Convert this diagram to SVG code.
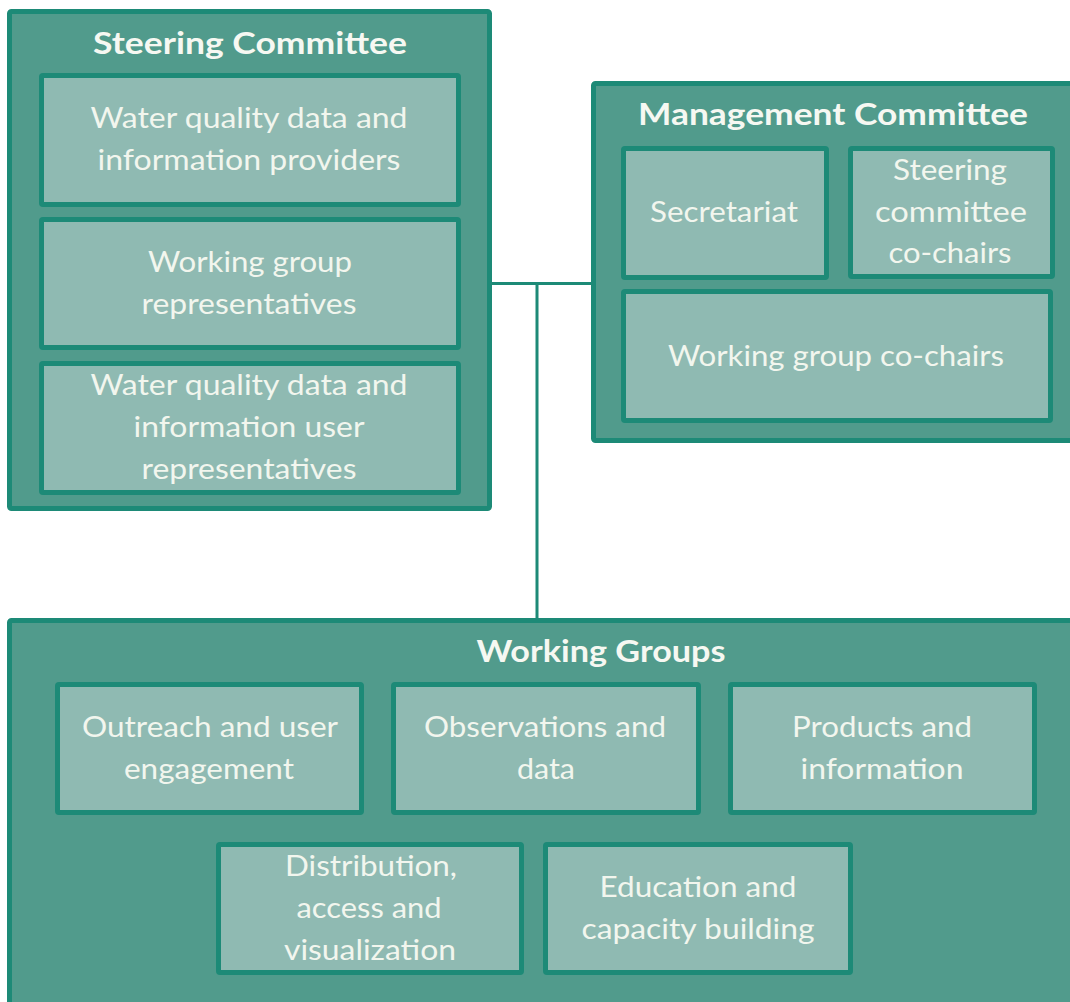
<svg xmlns="http://www.w3.org/2000/svg" width="1070" height="1002" viewBox="0 0 1070 1002">
<style>
.outer{fill:#519b8c;stroke:#1d8a77;stroke-width:5;stroke-linejoin:round}
.inner{fill:#8fbab2;stroke:#1d8a77;stroke-width:5;stroke-linejoin:round}
.title{font-family:Lato,"Open Sans","Liberation Sans",sans-serif;font-weight:bold;font-size:31px;fill:#f6f8f2;text-anchor:middle}
.lbl{font-family:Lato,"Open Sans","Liberation Sans",sans-serif;font-size:28px;fill:#f2f6ee;text-anchor:middle}
.conn{stroke:#1d8a77;stroke-width:3;fill:none}
</style>
<rect width="1070" height="1002" fill="#ffffff"/>
<g id="connectors">
<line class="conn" x1="492" y1="283.5" x2="592" y2="283.5"/>
<line class="conn" x1="537" y1="283.5" x2="537" y2="619"/>
</g>
<g id="steering-committee">
<rect class="outer" x="9.5" y="11.5" width="480" height="497" rx="2"/>
<text class="title" x="250" y="54" textLength="314" lengthAdjust="spacingAndGlyphs">Steering Committee</text>
</g>
<g id="sc-providers">
<rect class="inner" x="41.5" y="75.5" width="417" height="129" rx="1.5"/>
<text class="lbl" x="249" y="128" textLength="317" lengthAdjust="spacingAndGlyphs">Water quality data and</text>
<text class="lbl" x="249" y="170" textLength="303" lengthAdjust="spacingAndGlyphs">information providers</text>
</g>
<g id="sc-wg-reps">
<rect class="inner" x="41.5" y="219.5" width="417" height="128" rx="1.5"/>
<text class="lbl" x="250" y="272" textLength="204" lengthAdjust="spacingAndGlyphs">Working group</text>
<text class="lbl" x="249" y="314" textLength="215" lengthAdjust="spacingAndGlyphs">representatives</text>
</g>
<g id="sc-user-reps">
<rect class="inner" x="41.5" y="363.5" width="417" height="129" rx="1.5"/>
<text class="lbl" x="249" y="395" textLength="317" lengthAdjust="spacingAndGlyphs">Water quality data and</text>
<text class="lbl" x="249" y="437" textLength="231" lengthAdjust="spacingAndGlyphs">information user</text>
<text class="lbl" x="249" y="479" textLength="215" lengthAdjust="spacingAndGlyphs">representatives</text>
</g>
<g id="management-committee">
<rect class="outer" x="593.5" y="83.5" width="520" height="357" rx="2"/>
<text class="title" x="833" y="125" textLength="390" lengthAdjust="spacingAndGlyphs">Management Committee</text>
</g>
<g id="mc-secretariat">
<rect class="inner" x="623.5" y="148.5" width="203" height="129" rx="1.5"/>
<text class="lbl" x="724" y="222" textLength="148" lengthAdjust="spacingAndGlyphs">Secretariat</text>
</g>
<g id="mc-sc-cochairs">
<rect class="inner" x="850.5" y="148.5" width="202" height="128" rx="1.5"/>
<text class="lbl" x="950" y="180" textLength="114" lengthAdjust="spacingAndGlyphs">Steering</text>
<text class="lbl" x="951" y="222" textLength="152" lengthAdjust="spacingAndGlyphs">committee</text>
<text class="lbl" x="950" y="263" textLength="123" lengthAdjust="spacingAndGlyphs">co-chairs</text>
</g>
<g id="mc-wg-cochairs">
<rect class="inner" x="623.5" y="291.5" width="427" height="129" rx="1.5"/>
<text class="lbl" x="836" y="366" textLength="336" lengthAdjust="spacingAndGlyphs">Working group co-chairs</text>
</g>
<g id="working-groups">
<rect class="outer" x="9.5" y="620.5" width="1100" height="420" rx="2"/>
<text class="title" x="601" y="662" textLength="249" lengthAdjust="spacingAndGlyphs">Working Groups</text>
</g>
<g id="wg-outreach">
<rect class="inner" x="57.5" y="684.5" width="304" height="128" rx="1.5"/>
<text class="lbl" x="210" y="736.5" textLength="256" lengthAdjust="spacingAndGlyphs">Outreach and user</text>
<text class="lbl" x="209" y="778.5" textLength="170" lengthAdjust="spacingAndGlyphs">engagement</text>
</g>
<g id="wg-observations">
<rect class="inner" x="393.5" y="684.5" width="305" height="128" rx="1.5"/>
<text class="lbl" x="545" y="736.5" textLength="242" lengthAdjust="spacingAndGlyphs">Observations and</text>
<text class="lbl" x="546" y="778.5" textLength="58" lengthAdjust="spacingAndGlyphs">data</text>
</g>
<g id="wg-products">
<rect class="inner" x="730.5" y="684.5" width="304" height="128" rx="1.5"/>
<text class="lbl" x="882" y="736.5" textLength="180" lengthAdjust="spacingAndGlyphs">Products and</text>
<text class="lbl" x="882" y="778.5" textLength="163" lengthAdjust="spacingAndGlyphs">information</text>
</g>
<g id="wg-distribution">
<rect class="inner" x="218.5" y="844.5" width="303" height="128" rx="1.5"/>
<text class="lbl" x="371" y="876" textLength="172" lengthAdjust="spacingAndGlyphs">Distribution,</text>
<text class="lbl" x="369" y="918" textLength="145" lengthAdjust="spacingAndGlyphs">access and</text>
<text class="lbl" x="370" y="960" textLength="172" lengthAdjust="spacingAndGlyphs">visualization</text>
</g>
<g id="wg-education">
<rect class="inner" x="545.5" y="844.5" width="305" height="128" rx="1.5"/>
<text class="lbl" x="698" y="896.5" textLength="197" lengthAdjust="spacingAndGlyphs">Education and</text>
<text class="lbl" x="698" y="938.5" textLength="233" lengthAdjust="spacingAndGlyphs">capacity building</text>
</g>
</svg>
